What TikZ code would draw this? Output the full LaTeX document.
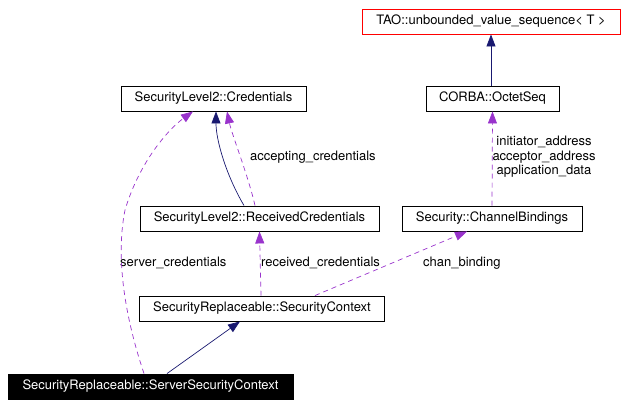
\documentclass[tikz,border=0pt]{standalone}
\usepackage{fontspec}
\setmainfont{TeX Gyre Heros}
\usepackage{xcolor}
\definecolor{navy}{rgb}{0.1,0.1,0.44}
\definecolor{orchid}{rgb}{0.6,0.2,0.8}
\usepackage{tikz}
\usetikzlibrary{calc,positioning,arrows.meta,shapes}
\tikzset{
    cls/.style={
    rectangle,draw=black,line width=0.9pt,minimum height=25pt,inner sep=0pt,font=\fontsize{13}{14.5}\selectfont
    },
    tmpl/.style={
    cls,draw=red
    },
    focus/.style={
    cls,fill=black,text=white
    },
    lbl/.style={inner sep=0pt,font=\fontsize{13}{14.5}\selectfont},
  inherit/.style={draw=navy, line width=0.7pt, -{Triangle[length=12pt,width=9pt]}},
  usage/.style={draw=orchid, line width=0.7pt, dash pattern=on 5pt off 4pt, -{Triangle[length=12pt,width=9pt]}}
}
\begin{document}
\begin{tikzpicture}[x=1pt,y=-1pt]
    \useasboundingbox (0,0) rectangle (624,405);

    \node[tmpl,minimum width=258pt] (tao) at (491,21.5) {TAO::unbounded\_value\_sequence< T >};
    \node[cls,minimum width=185pt] (cred) at (213.5,98.5) {SecurityLevel2::Credentials};
    \node[cls,minimum width=133pt] (octet) at (492.5,98.5) {CORBA::OctetSeq};
    \node[cls,minimum width=239pt] (recv) at (259.5,218.5) {SecurityLevel2::ReceivedCredentials};
    \node[cls,minimum width=180pt] (chan) at (492,218.5) {Security::ChannelBindings};
    \node[cls,minimum width=245pt] (ctx) at (262,308.5) {SecurityReplaceable::SecurityContext};
    \node[focus,minimum width=285pt] (server) at (150.5,386.5) {SecurityReplaceable::ServerSecurityContext};

    \node[lbl,anchor=west] (lacc) at (250,157) {accepting\_credentials};
    \node[lbl,align=center] (loct) at (544,157) {initiator\_address\\acceptor\_address\\application\_data};
    \node[lbl,anchor=west] (lsrv) at (120,263) {server\_credentials};
    \node[lbl,anchor=west] (lrcv) at (261,263) {received\_credentials};
    \node[lbl,anchor=west] (lchn) at (423,263) {chan\_binding};

    \begin{scope} [every path/.style=inherit]
      \path ([xshift=-1.5]octet.north) -- (tao.south);
      \path ([xshift=-15.5]recv.north) .. controls (226,175) and (216,140) .. ([xshift=2.5]cred.south);
      \path ([xshift=16.5]server.north) -- ([xshift=-22]ctx.south);
    \end{scope}

    \begin{scope} [every path/.style=usage]
      \path ([xshift=-4.5]recv.north) .. controls (248,175) and (232,135) .. ([xshift=13.5]cred.south);
      \path ([xshift=-6.5]server.north) .. controls (126,320) and (115,260) .. (125,210)
            .. controls (140,160) and (170,128) .. ([xshift=-20.5]cred.south);
      \path ([xshift=-1]ctx.north) -- (recv.south);
      \path ([xshift=53]ctx.north) -- ([xshift=-25]chan.south);
      \path (chan.north) -- (octet.south);
    \end{scope}
  \end{tikzpicture}
\end{document}
